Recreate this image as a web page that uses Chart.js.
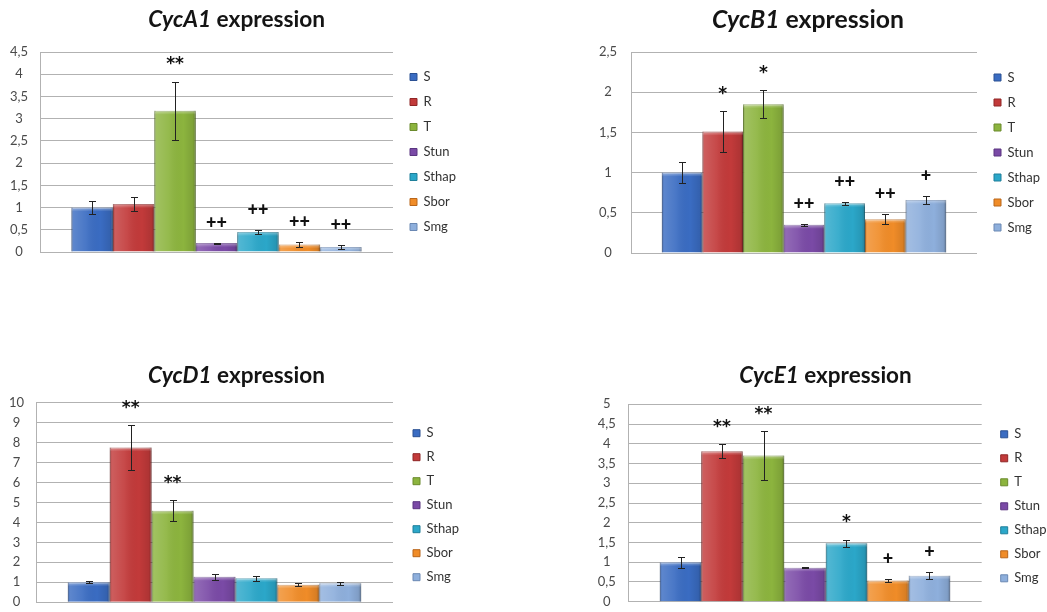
<!DOCTYPE html>
<html>
<head>
<meta charset="utf-8">
<title>Cyclin expression</title>
<script src="https://cdn.jsdelivr.net/npm/chart.js@4.4.1/dist/chart.umd.min.js"></script>
<style>
  html, body { margin: 0; padding: 0; background: #ffffff; width: 1047px; height: 612px; overflow: hidden; }
  canvas { position: absolute; display: block; }
</style>
</head>
<body>
<canvas id="cycA1" width="523" height="306" style="left:0px;top:0px"></canvas>
<canvas id="cycB1" width="523" height="306" style="left:524px;top:0px"></canvas>
<canvas id="cycD1" width="523" height="316" style="left:0px;top:306px"></canvas>
<canvas id="cycE1" width="523" height="316" style="left:524px;top:306px"></canvas>
<script>
// Sample groups (one bar each, in legend order)
const groups = ['S', 'R', 'T', 'Stun', 'Sthap', 'Sbor', 'Smg'];

// CycA1 relative expression: mean, error and significance mark per group
const cycA1Mean = [1.00, 1.08, 3.18, 0.20, 0.45, 0.17, 0.11];
const cycA1Err  = [0.15, 0.15, 0.65, 0.01, 0.04, 0.05, 0.05];
const cycA1Sig  = ['', '', '**', '++', '++', '++', '++'];
const cycA1Ticks = ['0', '0,5', '1', '1,5', '2', '2,5', '3', '3,5', '4', '4,5'];

// CycB1
const cycB1Mean = [1.00, 1.51, 1.85, 0.35, 0.62, 0.42, 0.66];
const cycB1Err  = [0.13, 0.25, 0.175, 0.01, 0.02, 0.065, 0.05];
const cycB1Sig  = ['', '*', '*', '++', '++', '++', '+'];
const cycB1Ticks = ['0', '0,5', '1', '1,5', '2', '2,5'];

// CycD1
const cycD1Mean = [1.00, 7.76, 4.59, 1.27, 1.20, 0.88, 0.95];
const cycD1Err  = [0.05, 1.12, 0.53, 0.14, 0.12, 0.07, 0.07];
const cycD1Sig  = ['', '**', '**', '', '', '', ''];
const cycD1Ticks = ['0', '1', '2', '3', '4', '5', '6', '7', '8', '9', '10'];

// CycE1
const cycE1Mean = [1.00, 3.81, 3.70, 0.86, 1.48, 0.54, 0.66];
const cycE1Err  = [0.14, 0.175, 0.62, 0.01, 0.09, 0.04, 0.08];
const cycE1Sig  = ['', '**', '**', '', '*', '+', '+'];
const cycE1Ticks = ['0', '0,5', '1', '1,5', '2', '2,5', '3', '3,5', '4', '4,5', '5'];

// Bar fill and edge colours per group
const fillColors = ['#3a6cc2', '#c23a3a', '#8cb43e', '#7a4aa6', '#2ba7c9', '#f08c28', '#8eafdc'];
const edgeColors = ['#2a5093', '#8f2626', '#6a8a2c', '#5a3580', '#1f7f9a', '#b9661a', '#6a88b3'];

const FONT = 'Lato, "Open Sans", "DejaVu Sans", sans-serif';
const STAR_FONT = '"DejaVu Sans", sans-serif';
const LEGEND_FONT = { family: FONT, size: 13 };

// Panel layout: chart-area edges (canvas px), title placement, legend spacing
const panels = [
  { canvas: 'cycA1', gene: 'CycA1', mean: cycA1Mean, err: cycA1Err, sig: cycA1Sig, ticks: cycA1Ticks,
    yMax: 4.5, step: 0.5, area: { l: 40, t: 52, r: 393, b: 252 }, tickPad: 12,
    title: { cx: 236.7, baseline: 26.7, width: 177 }, legendGap: 17, legendPad: 12 },
  { canvas: 'cycB1', gene: 'CycB1', mean: cycB1Mean, err: cycB1Err, sig: cycB1Sig, ticks: cycB1Ticks,
    yMax: 2.5, step: 0.5, area: { l: 107, t: 52, r: 453, b: 253 }, tickPad: 14,
    title: { cx: 284, baseline: 28.3, width: 192 }, legendGap: 17, legendPad: 12 },
  { canvas: 'cycD1', gene: 'CycD1', mean: cycD1Mean, err: cycD1Err, sig: cycD1Sig, ticks: cycD1Ticks,
    yMax: 10, step: 1, area: { l: 36, t: 96.7, r: 393, b: 301.7 }, tickPad: 12,
    title: { cx: 236.5, baseline: 77.3, width: 177 }, legendGap: 20, legendPad: 11 },
  { canvas: 'cycE1', gene: 'CycE1', mean: cycE1Mean, err: cycE1Err, sig: cycE1Sig, ticks: cycE1Ticks,
    yMax: 5, step: 0.5, area: { l: 104.3, t: 98.3, r: 457.7, b: 302.3 }, tickPad: 12.5,
    title: { cx: 301.5, baseline: 77.3, width: 172.5 }, legendGap: 19, legendPad: 11 }
];

// Bevelled shading over each bar
const bevel = {
  id: 'bevel',
  afterDatasetsDraw(chart) {
    const ctx = chart.ctx;
    chart.data.datasets.forEach((ds, i) => {
      chart.getDatasetMeta(i).data.forEach(bar => {
        const { x, y, base, width } = bar.getProps(['x', 'y', 'base', 'width'], true);
        const l = x - width / 2, h = base - y;
        if (h <= 0) return;
        ctx.save();
        const g = ctx.createLinearGradient(l, 0, l + width, 0);
        g.addColorStop(0, 'rgba(0,0,0,0.24)');
        g.addColorStop(0.05, 'rgba(255,255,255,0.18)');
        g.addColorStop(0.35, 'rgba(255,255,255,0.08)');
        g.addColorStop(0.7, 'rgba(0,0,0,0)');
        g.addColorStop(0.93, 'rgba(0,0,0,0.10)');
        g.addColorStop(1, 'rgba(0,0,0,0.30)');
        ctx.fillStyle = g;
        ctx.fillRect(l, y, width, h);
        const th = Math.min(4, h);
        const tg = ctx.createLinearGradient(0, y, 0, y + th);
        tg.addColorStop(0, 'rgba(255,255,255,0.40)');
        tg.addColorStop(1, 'rgba(255,255,255,0)');
        ctx.fillStyle = tg;
        ctx.fillRect(l, y, width, th);
        ctx.restore();
      });
    });
  }
};

// Error bars (mean ± error) with caps
const errorBars = {
  id: 'errorBars',
  afterDatasetsDraw(chart, args, opts) {
    const ctx = chart.ctx, ys = chart.scales.y;
    ctx.save();
    ctx.strokeStyle = opts.color;
    ctx.lineWidth = opts.lineWidth;
    chart.data.datasets.forEach((ds, i) => {
      const bar = chart.getDatasetMeta(i).data[0];
      const v = ds.data[0], e = ds.err;
      const x = Math.round(bar.x) + 0.5;
      const y1 = Math.round(ys.getPixelForValue(v + e)) + 0.5;
      const y2 = Math.round(ys.getPixelForValue(v - e)) + 0.5;
      const c = opts.cap;
      ctx.beginPath();
      ctx.moveTo(x, y1); ctx.lineTo(x, y2);
      ctx.moveTo(x - c, y1); ctx.lineTo(x + c, y1);
      ctx.moveTo(x - c, y2); ctx.lineTo(x + c, y2);
      ctx.stroke();
    });
    ctx.restore();
  }
};

// Significance marks above the error bars
const sigMarks = {
  id: 'sigMarks',
  afterDatasetsDraw(chart, args, opts) {
    const ctx = chart.ctx, ys = chart.scales.y;
    ctx.save();
    ctx.fillStyle = '#111111';
    ctx.textAlign = 'center';
    ctx.textBaseline = 'alphabetic';
    chart.data.datasets.forEach((ds, i) => {
      if (!ds.sig) return;
      const star = ds.sig.indexOf('*') >= 0;
      ctx.font = star ? 'bold ' + opts.starSize + 'px ' + STAR_FONT
                      : '900 ' + opts.size + 'px ' + FONT;
      const bar = chart.getDatasetMeta(i).data[0];
      const top = ys.getPixelForValue(ds.data[0] + ds.err);
      const m = ctx.measureText(ds.sig);
      const cy = top - opts.lift;
      ctx.fillText(ds.sig, bar.x, cy + (m.actualBoundingBoxAscent - m.actualBoundingBoxDescent) / 2);
    });
    ctx.restore();
  }
};

// Title with italic gene name followed by bold text
const mixedTitle = {
  id: 'mixedTitle',
  afterDraw(chart, args, o) {
    const ctx = chart.ctx;
    const it = s => 'italic bold ' + s + 'px ' + FONT;
    const bd = s => 'bold ' + s + 'px ' + FONT;
    ctx.save();
    ctx.font = it(20); const w1 = ctx.measureText(o.gene).width;
    ctx.font = bd(20); const w2 = ctx.measureText(o.rest).width;
    const size = 20 * o.width / (w1 + w2);
    ctx.font = it(size); const a = ctx.measureText(o.gene).width;
    ctx.font = bd(size); const b = ctx.measureText(o.rest).width;
    const x0 = o.cx - (a + b) / 2;
    ctx.fillStyle = '#141414';
    ctx.textAlign = 'left';
    ctx.textBaseline = 'alphabetic';
    ctx.font = it(size); ctx.fillText(o.gene, x0, o.baseline);
    ctx.font = bd(size); ctx.fillText(o.rest, x0 + a, o.baseline);
    ctx.restore();
  }
};

// Moves the legend to a fixed distance from the plot area
const legendGap = {
  id: 'legendGap',
  afterLayout(chart, args, opts) {
    const lg = chart.legend;
    if (!lg) return;
    const dx = chart.chartArea.right + opts.gap - lg.options.labels.padding - lg.left;
    lg.left += dx;
    lg.right += dx;
  }
};

function textWidth(font, texts) {
  const ctx = document.createElement('canvas').getContext('2d');
  ctx.font = font;
  return Math.max(...texts.map(t => ctx.measureText(t).width));
}

panels.forEach(p => {
  const cv = document.getElementById(p.canvas);
  const W = cv.width, H = cv.height;
  const boxW = 7;
  const legendW = p.legendPad + boxW + LEGEND_FONT.size / 2 +
                  textWidth(LEGEND_FONT.size + 'px ' + FONT, groups) + 10;

  const datasets = groups.map((g, i) => ({
    label: g,
    data: [p.mean[i]],
    err: p.err[i],
    sig: p.sig[i],
    backgroundColor: fillColors[i],
    borderColor: edgeColors[i],
    borderWidth: 1,
    barPercentage: 1.0,
    categoryPercentage: 0.822
  }));

  new Chart(cv, {
    type: 'bar',
    data: { labels: [''], datasets },
    options: {
      responsive: false,
      animation: false,
      events: [],
      layout: {
        padding: { left: 0, top: p.area.t, bottom: H - p.area.b, right: W - p.area.r - legendW }
      },
      scales: {
        x: { display: false },
        y: {
          min: 0,
          max: p.yMax,
          afterFit: s => { s.width = p.area.l; },
          ticks: {
            stepSize: p.step,
            crossAlign: 'center',
            padding: p.tickPad,
            color: '#4a4a4a',
            font: { family: FONT, size: 13 },
            callback: (v, i) => p.ticks[i]
          },
          grid: { color: '#b2b2b2', lineWidth: 1, drawTicks: false },
          border: { display: true, color: '#b2b2b2', width: 1 }
        }
      },
      plugins: {
        legend: {
          position: 'right',
          labels: {
            boxWidth: boxW,
            boxHeight: boxW,
            padding: p.legendPad,
            color: '#333333',
            font: LEGEND_FONT
          }
        },
        tooltip: { enabled: false },
        title: { display: false },
        legendGap: { gap: p.legendGap },
        errorBars: { color: '#222222', lineWidth: 1, cap: 3.5 },
        sigMarks: { size: 18, starSize: 17, lift: 21 },
        mixedTitle: { gene: p.gene, rest: ' expression', cx: p.title.cx, baseline: p.title.baseline, width: p.title.width }
      }
    },
    plugins: [legendGap, bevel, errorBars, sigMarks, mixedTitle]
  });
});
</script>
</body>
</html>
